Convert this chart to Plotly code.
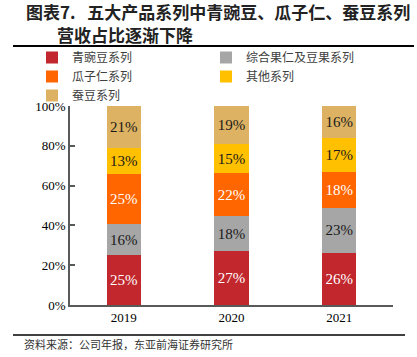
import plotly.graph_objects as go

years = ["2019", "2020", "2021"]
series_names = ["青豌豆系列", "综合果仁及豆果系列", "瓜子仁系列", "其他系列", "蚕豆系列"]
pea = [25.1, 27.1, 26.0]
nuts = [15.6, 17.6, 22.9]
melon = [25.1, 21.6, 18.1]
other = [13.2, 14.6, 17.1]
broad = [21.0, 19.1, 15.9]
series_values = [pea, nuts, melon, other, broad]
colors = ["#C1272D", "#A6A6A6", "#FF6600", "#FFC000", "#DDB262"]
text_colors = ["white", "#1a1a1a", "white", "#1a1a1a", "#1a1a1a"]
yticks = [0, 20, 40, 60, 80, 100]

L, R, T, B = 70, 24, 106, 52
W, H = 417, 357
PW, PH = W - L - R, H - T - B


def px(x):
    return (x - L) / PW


def py(y):
    return (H - B - y) / PH


fig = go.Figure()
for name, vals, c, tc in zip(series_names, series_values, colors, text_colors):
    fig.add_trace(go.Bar(
        x=years, y=vals, name=name,
        marker=dict(color=c, line=dict(width=0)),
        texttemplate="%{y:.0f}%", textposition="inside", insidetextanchor="middle",
        textfont=dict(family="Liberation Serif", size=15, color=tc),
        cliponaxis=False, hoverinfo="skip",
    ))

fig.update_layout(
    barmode="stack", bargap=0.68,
    width=W, height=H,
    margin=dict(l=L, r=R, t=T, b=B, autoexpand=False),
    plot_bgcolor="white", paper_bgcolor="white",
    showlegend=True,
    legend=dict(
        orientation="h", xref="paper", yref="paper",
        x=px(32), y=py(43), xanchor="left", yanchor="top",
        entrywidth=129, traceorder="normal",
        font=dict(family="Noto Sans CJK SC", size=12, color="#404040"),
        itemclick=False, tracegroupgap=0, bgcolor="rgba(0,0,0,0)",
    ),
    xaxis=dict(
        showline=True, linecolor="#595959", linewidth=1.5,
        ticks="", tickfont=dict(family="Liberation Serif", size=13, color="#000"),
        showgrid=False,
    ),
    yaxis=dict(
        range=[0, 100.001], tickvals=yticks, ticktext=[f"{v}%" for v in yticks],
        showline=True, linecolor="#595959", linewidth=1.5,
        ticks="inside", ticklen=5, tickcolor="#595959", tickwidth=1.5,
        showgrid=False, zeroline=False,
        tickfont=dict(family="Liberation Serif", size=13, color="#000"),
    ),
)

fig.add_annotation(text="<b>图表7.\u00a0\u00a0\u00a0五大产品系列中青豌豆、瓜子仁、蚕豆系列</b>",
                   xref="paper", yref="paper", x=px(24), y=py(12),
                   xanchor="left", yanchor="middle", showarrow=False,
                   font=dict(family="Noto Sans CJK SC", size=17, color="#222"))
fig.add_annotation(text="<b>营收占比逐渐下降</b>",
                   xref="paper", yref="paper", x=px(55), y=py(35),
                   xanchor="left", yanchor="middle", showarrow=False,
                   font=dict(family="Noto Sans CJK SC", size=17, color="#222"))
fig.add_annotation(text="资料来源：公司年报，东亚前海证券研究所",
                   xref="paper", yref="paper", x=px(22), y=py(344),
                   xanchor="left", yanchor="middle", showarrow=False,
                   font=dict(family="Noto Sans CJK SC", size=11, color="#333"))
fig.add_shape(type="line", xref="paper", yref="paper",
              x0=px(13), x1=px(414), y0=py(46), y1=py(46),
              line=dict(color="#000", width=2))
fig.add_shape(type="line", xref="paper", yref="paper",
              x0=px(13), x1=px(405), y0=py(335), y1=py(335),
              line=dict(color="#000", width=1.5))

fig.write_html("out.html", config={"displayModeBar": False},
               post_script="document.body.style.margin='0px';")
